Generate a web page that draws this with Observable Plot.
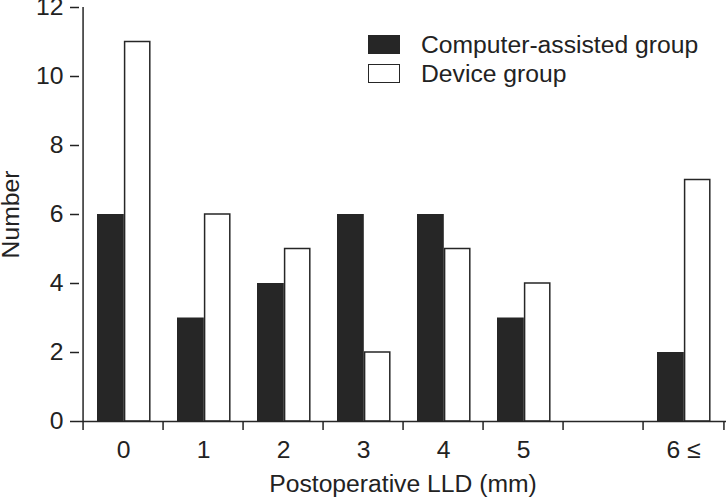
<!DOCTYPE html>
<html><head><meta charset="utf-8">
<script src="https://cdn.jsdelivr.net/npm/d3@7"></script>
<script src="https://cdn.jsdelivr.net/npm/@observablehq/plot@0.6"></script>
<style>
body{margin:0;background:#fff;}
#wrap{position:relative;width:727px;height:501px;font-family:"Liberation Sans",Arial,sans-serif;color:#222;}
.legend{position:absolute;left:368px;top:30px;font-size:24.7px;}
.item{display:flex;align-items:center;height:29px;white-space:nowrap;}
.sw{width:32px;height:19px;box-sizing:border-box;margin-right:21px;}
</style></head><body><div id="wrap"></div>
<script>
const categories = ["0","1","2","3","4","5","","6 ≤"];
const computerAssisted = [6,3,4,6,6,3,null,2];
const deviceGroup = [11,6,5,2,5,4,null,7];
const yTicks = [0,2,4,6,8,10,12];
const seriesNames = ["Computer-assisted group","Device group"];
const xTitle = "Postoperative LLD (mm)";
const yTitle = "Number";

const ink = "#262626";
const rowsA = categories.map((c,i)=>({cat:c, v:computerAssisted[i]})).filter(d=>d.v!=null);
const rowsB = categories.map((c,i)=>({cat:c, v:deviceGroup[i]})).filter(d=>d.v!=null);
const half = (727-1-79)/categories.length/2;

const chart = Plot.plot({
  width:727, height:501,
  marginLeft:79, marginRight:1, marginTop:7, marginBottom:80,
  style:{fontFamily:'"Liberation Sans", Arial, sans-serif', fontSize:"24.7px", color:"#222", background:"white", overflow:"visible"},
  x:{domain:categories, padding:0, axis:null, label:null},
  y:{domain:[0,12], axis:null, label:null},
  marks:[
    Plot.barY(rowsA, {x:"cat", y:"v", fill:ink, insetLeft:14, insetRight:39.2}),
    Plot.barY(rowsB, {x:"cat", y:"v", fill:"white", stroke:ink, strokeWidth:1.5, insetLeft:41.6, insetRight:13.2}),
    Plot.axisY(yTicks, {tickSize:9, tickPadding:7, label:null, strokeWidth:1.5}),
    Plot.axisX({tickSize:0, tickPadding:19, label:null}),
    Plot.axisX(categories, {tickSize:9, tickFormat:()=>"", label:null, strokeWidth:1.5, dx:-half}),
    Plot.axisX([categories[categories.length-1]], {tickSize:9, tickFormat:()=>"", label:null, strokeWidth:1.5, dx:half}),
    Plot.ruleY([0], {stroke:ink, strokeWidth:1.5}),
    Plot.ruleX([categories[0]], {y1:0, y2:12, dx:-half, stroke:ink, strokeWidth:1.5}),
    Plot.text([yTitle], {frameAnchor:"left", rotate:-90, textAnchor:"middle", lineAnchor:"middle", dx:-68, fontSize:24.7, fill:"#222"}),
    Plot.text([xTitle], {frameAnchor:"bottom", textAnchor:"middle", lineAnchor:"middle", dy:63, fontSize:24.7, fill:"#222"})
  ]
});
const wrap = document.getElementById("wrap");
wrap.appendChild(chart);
const leg = document.createElement("div");
leg.className = "legend";
const styles = [`background:${ink};`, `background:#fff;border:1.5px solid ${ink};`];
seriesNames.forEach((n,i)=>{
  const it = document.createElement("div"); it.className="item";
  const sw = document.createElement("span"); sw.className="sw"; sw.setAttribute("style", styles[i]);
  const t = document.createElement("span"); t.textContent = n;
  it.appendChild(sw); it.appendChild(t); leg.appendChild(it);
});
wrap.appendChild(leg);
</script></body></html>
